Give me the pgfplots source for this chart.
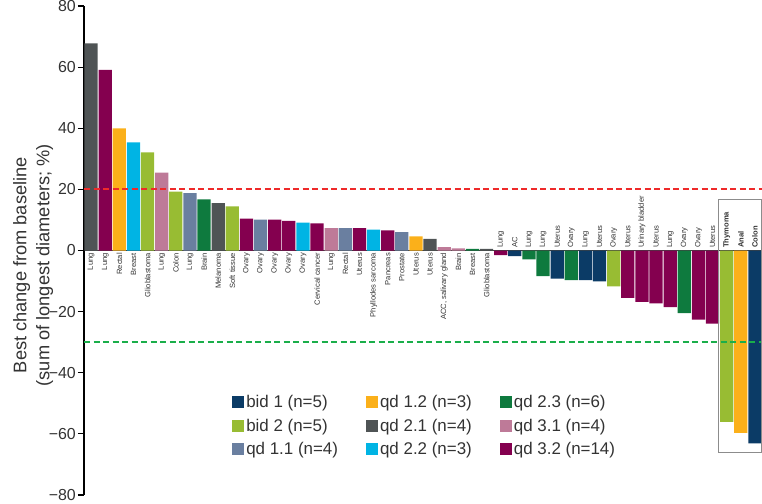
\documentclass[border=0pt]{standalone}
\usepackage{pgfplots}
\pgfplotsset{compat=1.18}
\usepackage{fontspec}
\setmainfont{Liberation Sans}
\definecolor{cbidA}{HTML}{0B3B66}
\definecolor{cbidB}{HTML}{98BC33}
\definecolor{cqdAA}{HTML}{6A7FA0}
\definecolor{cqdAB}{HTML}{FBB01A}
\definecolor{cqdBA}{HTML}{4F5455}
\definecolor{cqdBB}{HTML}{00B4E4}
\definecolor{cqdBC}{HTML}{0E7A3E}
\definecolor{cqdCA}{HTML}{BE7A98}
\definecolor{cqdCB}{HTML}{84004F}
\definecolor{cred}{HTML}{EE2A2A}
\definecolor{cgreen}{HTML}{1AAE4A}
\definecolor{ctext}{HTML}{333333}
\pgfplotsset{
  barstyle/.style={ybar, bar width=0.94, bar shift=0pt, draw=none, fill=#1,
    area legend, legend image code/.code={\fill[#1] (0bp,-6bp) rectangle (12bp,6bp);}},
}
\begin{document}
\begin{tikzpicture}
\path[use as bounding box] (0,0) rectangle (762bp,504bp);
\begin{axis}[
  at={(84bp,9bp)}, anchor=south west,
  width=678bp, height=489bp, scale only axis,
  xmin=-0.5, xmax=47.5, ymin=-80, ymax=80,
  axis y line*=left, axis x line*=middle,
  xtick=\empty,
  ytick={-80,-60,-40,-20,0,20,40,60,80},
  yticklabels={−80,−60,−40,−20,0,20,40,60,80},
  tick align=outside, major tick length=6bp,
  y axis line style={line width=1.4bp, black},
  x axis line style={line width=1.4bp, black!75},
  ytick style={line width=1.2bp, black},
  yticklabel style={font=\fontsize{16}{19}\selectfont, text=ctext, inner xsep=2bp, inner ysep=0bp},
  ylabel={Best change from baseline\\(sum of longest diameters; \%)},
  ylabel style={at={(axis description cs:-0.0750,0.47)}, anchor=center, align=center,
    font=\fontsize{18.3}{23}\selectfont, text=ctext},
  clip=false,
  legend columns=3,
  legend style={at={(axis description cs:0.214,0.212)}, anchor=north west, draw=none, fill=none,
    font=\fontsize{17}{19}\selectfont, text=ctext, row sep=5.5bp,
    /tikz/every even column/.append style={column sep=26bp}},
  legend cell align=left,
]
% bars, legend order row-wise
\addplot[barstyle=cbidA] coordinates {(30,-1.8) (33,-9.2) (35,-9.7) (36,-10.1) (47,-63.1)};
\addlegendentry{bid 1 (n=5)}
\addplot[barstyle=cqdAB] coordinates {(2,40.0) (23,4.6) (46,-59.7)};
\addlegendentry{qd 1.2 (n=3)}
\addplot[barstyle=cqdBC] coordinates {(8,16.7) (27,0.5) (31,-2.9) (32,-8.4) (34,-9.7) (42,-20.5)};
\addlegendentry{qd 2.3 (n=6)}
\addplot[barstyle=cbidB] coordinates {(4,32.1) (6,19.3) (10,14.4) (37,-11.7) (45,-56.1)};
\addlegendentry{bid 2 (n=5)}
\addplot[barstyle=cqdBA] coordinates {(0,67.8) (9,15.5) (24,3.8) (28,0.5)};
\addlegendentry{qd 2.1 (n=4)}
\addplot[barstyle=cqdCA] coordinates {(5,25.5) (17,7.3) (25,1.1) (26,0.7)};
\addlegendentry{qd 3.1 (n=4)}
\addplot[barstyle=cqdAA] coordinates {(7,18.8) (12,10.1) (18,7.3) (22,6.0)};
\addlegendentry{qd 1.1 (n=4)}
\addplot[barstyle=cqdBB] coordinates {(3,35.4) (15,9.1) (20,6.8)};
\addlegendentry{qd 2.2 (n=3)}
\addplot[barstyle=cqdCB] coordinates {(1,59.1) (11,10.4) (13,10.1) (14,9.7) (16,8.9) (19,7.3) (21,6.6) (29,-1.5) (38,-15.5) (39,-16.8) (40,-17.3) (41,-18.5) (43,-22.6) (44,-23.9)};
\addlegendentry{qd 3.2 (n=14)}
% reference lines
\addplot[forget plot, cred, line width=2.2bp, dash pattern=on 6bp off 3.5bp] coordinates {(-0.5,20) (47.5,20)};
\addplot[forget plot, cgreen, line width=2.2bp, dash pattern=on 6bp off 3.5bp] coordinates {(-0.5,-30) (47.5,-30)};
% box around last three
\addplot[forget plot, black!45, line width=1bp, sharp plot] coordinates {(44.42,16.7) (47.45,16.7) (47.45,-66.2) (44.42,-66.2) (44.42,16.7)};
% labels for positive bars (below zero line)
\addplot[forget plot, draw=none, mark=none, point meta=explicit symbolic, nodes near coords,
  every node near coord/.style={rotate=90, anchor=east, inner sep=2.5bp, text=ctext, font=\fontsize{7.6}{9}\selectfont}]
  coordinates {
  (0,0) [Lung] (1,0) [Lung] (2,0) [Rectal] (3,0) [Breast] (4,0) [Glioblastoma]
  (5,0) [Lung] (6,0) [Colon] (7,0) [Lung] (8,0) [Brain] (9,0) [Melanoma]
  (10,0) [Soft tissue] (11,0) [Ovary] (12,0) [Ovary] (13,0) [Ovary] (14,0) [Ovary]
  (15,0) [Ovary] (16,0) [Cervical cancer] (17,0) [Lung] (18,0) [Rectal] (19,0) [Uterus]
  (20,0) [Phyllodes sarcoma] (21,0) [Pancreas] (22,0) [Prostate] (23,0) [Uterus] (24,0) [Uterus]
  (25,0) [{ACC, salivary gland}] (26,0) [Brain] (27,0) [Breast] (28,0) [Glioblastoma]
  };
% labels for negative bars (above zero line)
\addplot[forget plot, draw=none, mark=none, point meta=explicit symbolic, nodes near coords,
  every node near coord/.style={rotate=90, anchor=west, inner sep=2.5bp, text=ctext, font=\fontsize{7.6}{9}\selectfont}]
  coordinates {
  (29,0) [Lung] (30,0) [AC] (31,0) [Lung] (32,0) [Lung] (33,0) [Uterus]
  (34,0) [Ovary] (35,0) [Lung] (36,0) [Uterus] (37,0) [Ovary] (38,0) [Uterus]
  (39,0) [Urinary bladder] (40,0) [Uterus] (41,0) [Lung] (42,0) [Ovary] (43,0) [Ovary]
  (44,0) [Uterus] (45,0) [\textbf{Thymoma}] (46,0) [\textbf{Anal}] (47,0) [\textbf{Colon}]
  };
\end{axis}
\end{tikzpicture}
\end{document}
